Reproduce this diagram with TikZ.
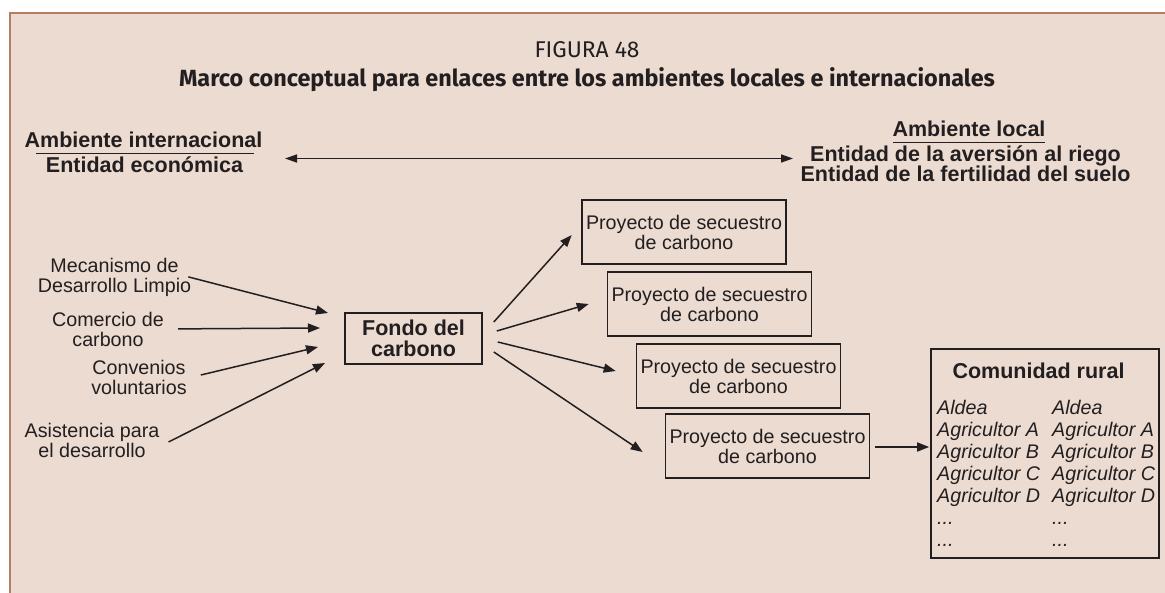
\documentclass[tikz,border=0pt]{standalone}
\usepackage{fontspec}
\setmainfont{Liberation Sans}
\newfontfamily\titlefont{Fira Sans}
\usetikzlibrary{arrows.meta}
\definecolor{bgfill}{HTML}{EBDBD1}
\definecolor{bgline}{HTML}{B97B62}
\definecolor{txt}{HTML}{231F20}
\tikzset{
  lbl/.style={font=\fontsize{19.7}{20}\selectfont, align=center, inner sep=0pt, text=txt},
  bld/.style={font=\bfseries\fontsize{21.5}{20.5}\selectfont, align=center, inner sep=0pt, text=txt},
  itl/.style={font=\itshape\fontsize{19.7}{22}\selectfont, align=left, inner sep=0pt, text=txt, anchor=north west},
  arr/.style={draw=txt, line width=1.5pt, -{Triangle[length=12pt,width=9pt]}},
  darr/.style={draw=txt, line width=1.5pt, {Triangle[length=12pt,width=8pt]}-{Triangle[length=12pt,width=8pt]}},
  projbox/.style={lbl, draw=txt, line width=1.6pt, minimum width=204pt, minimum height=64pt},
  uline/.style={draw=txt, line width=1pt}
}
\begin{document}
\begin{tikzpicture}[x=1pt,y=-1pt]
\useasboundingbox (0,0) rectangle (1165,593);
\fill[white] (0,0) rectangle (1165,593);
\fill[bgfill] (10,13) rectangle (1165,593);
\draw[bgline, line width=2pt] (10,593) -- (10,13.5) -- (1165,13.5);

% title
\node[anchor=base, text=txt, inner sep=0pt, font=\titlefont\fontsize{22.8}{26}\selectfont] (fig) at (587,58) {FIGURA 48};
\node[anchor=base, text=txt, inner sep=0pt, font=\titlefont\bfseries\fontsize{23.4}{26}\selectfont] (title) at (587,87) {Marco conceptual para enlaces entre los ambientes locales e internacionales};

% international / local
\node[bld, anchor=base] (amint) at (143.5,148) {Ambiente internacional};
\node[bld, anchor=base] (entec) at (144.5,173) {Entidad económica};
\coordinate (ul1a) at (36,154);
\coordinate (ul1b) at (254,154);
\draw[uline] (ul1a) -- (ul1b);

\node[bld, anchor=base] (amloc) at (969,137) {Ambiente local};
\coordinate (ul2a) at (893,142.5);
\coordinate (ul2b) at (1045,142.5);
\draw[uline] (ul2a) -- (ul2b);
\node[bld, anchor=base] (entav) at (965.5,162) {Entidad de la aversión al riego};
\node[bld, anchor=base] (entfe) at (965.5,182) {Entidad de la fertilidad del suelo};

\coordinate (dl) at (285,158.5);
\coordinate (dr) at (793,158.5);
\draw[darr] (dl) -- (dr);

% left labels
\node[lbl] (mec) at (114.5,277.9) {Mecanismo de\\Desarrollo Limpio};
\node[lbl] (comer) at (108,329.9) {Comercio de\\carbono};
\node[lbl] (conv) at (139,377.5) {Convenios\\voluntarios};
\node[lbl] (asis) at (92,440.4) {Asistencia para\\el desarrollo};

% fondo
\node[bld, draw=txt, line width=1.6pt, minimum width=137pt, minimum height=51pt] (fondo) at (413.5,338.5) {Fondo del\\carbono};

\coordinate (in1) at (328,313);
\coordinate (in2) at (320,328);
\coordinate (in3) at (318,347);
\coordinate (in4) at (325,363);
\draw[arr] ([shift={(-3,-1)}]mec.east) -- (in1);
\draw[arr] ([shift={(14,-1)}]comer.east) -- (in2);
\draw[arr] ([shift={(14,-2.5)}]conv.east) -- (in3);
\draw[arr] ([shift={(9,1.6)}]asis.east) -- (in4);

% projects
\node[projbox] (p1) at (684,232) {Proyecto de secuestro\\de carbono};
\node[projbox] (p2) at (709.5,304) {Proyecto de secuestro\\de carbono};
\node[projbox] (p3) at (738.5,376) {Proyecto de secuestro\\de carbono};
\node[projbox] (p4) at (767.5,446) {Proyecto de secuestro\\de carbono};

\draw[arr] ([shift={(11,-16.5)}]fondo.east) -- ([shift={(-9.5,3)}]p1.west);
\draw[arr] ([shift={(14,-7.5)}]fondo.east) -- ([shift={(-18,0)}]p2.west);
\draw[arr] ([shift={(15,3.5)}]fondo.east) -- ([shift={(-20,-5)}]p3.west);
\draw[arr] ([shift={(11,13.5)}]fondo.east) -- ([shift={(-22,6)}]p4.west);

% comunidad
\node[draw=txt, line width=1.6pt, minimum width=228pt, minimum height=209pt, inner sep=0pt] (com) at (1045,453.5) {};
\node[bld, anchor=base] (comt) at (1038.5,379) {Comunidad rural};
\node[itl] (col1) at (937,399.7) {Aldea\\Agricultor A\\Agricultor B\\Agricultor C\\Agricultor D\\...\\...};
\node[itl] (col2) at (1052,399.7) {Aldea\\Agricultor A\\Agricultor B\\Agricultor C\\Agricultor D\\...\\...};

\draw[arr, shorten >=6pt] ([shift={(5,1)}]p4.east) -- ([shift={(5,1)}]p4.east -| com.west);
\end{tikzpicture}
\end{document}
